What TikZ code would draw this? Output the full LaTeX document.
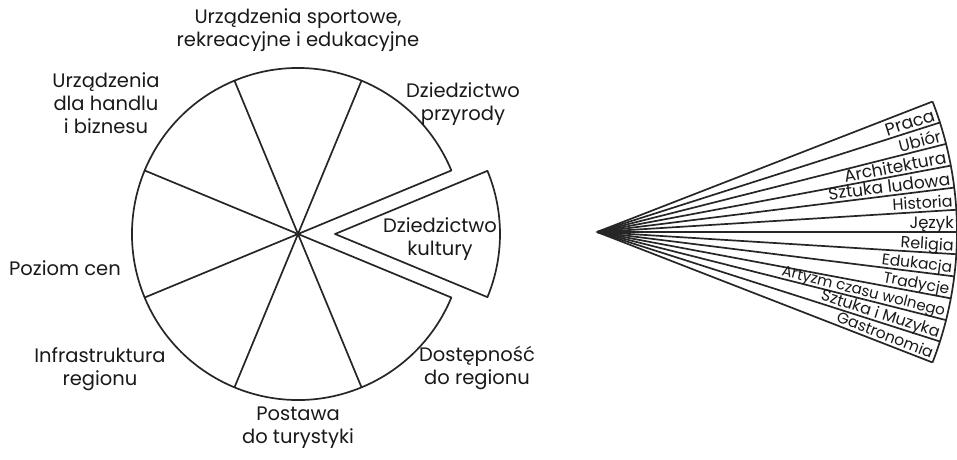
\documentclass[tikz,border=0pt]{standalone}
\usepackage{fontspec}
\setmainfont{Poppins}
\usetikzlibrary{calc}
\tikzset{
  lbl/.style={font=\fontsize{19.5}{23}\selectfont, align=center, inner sep=0pt, text=black!90},
  flbl/.style={inner sep=0pt, anchor=base east, text=black!90},
  edge/.style={line width=1.7pt, line join=round, black!85},
}
\begin{document}
\begin{tikzpicture}[x=1pt,y=1pt]
\useasboundingbox (0,0) rectangle (957,459);
% pie
\coordinate (C) at (298,225);
\coordinate (W) at (335,225);
\draw[edge] (C) -- ++(22.5:166) arc[start angle=22.5, end angle=337.5, radius=166] -- cycle;
\foreach \a in {67.5,112.5,157.5,202.5,247.5,292.5}
  \draw[edge] (C) -- ++(\a:166);
\draw[edge] (W) -- ++(-22.5:165) arc[start angle=-22.5, end angle=22.5, radius=165] -- cycle;
% pie labels
\node[lbl] (sport) at (298,429) {Urządzenia sportowe,\\rekreacyjne i edukacyjne};
\node[lbl] (handel) at (106,356) {Urządzenia\\dla handlu\\i biznesu};
\node[lbl] (przyr) at (463,355) {Dziedzictwo\\przyrody};
\node[lbl] (kult) at (440,220) {Dziedzictwo\\kultury};
\node[lbl] (ceny) at (65,191) {Poziom cen};
\node[lbl] (infra) at (100,90) {Infrastruktura\\regionu};
\node[lbl] (post) at (298,31) {Postawa\\do turystyki};
\node[lbl] (dost) at (477,91) {Dostępność\\do regionu};
% fan
\coordinate (F) at (597,227);
\pgfmathsetmacro{\da}{42.5/12}
\foreach \k in {0,...,12}{
  \pgfmathsetmacro{\ang}{21.25-\k*\da}
  \draw[edge] (F) -- ++(\ang:360);
}
\draw[edge] ($(F)+(21.25:360)$) arc[start angle=21.25, end angle=-21.25, radius=360];
\foreach \t/\s [count=\i from 1] in {Praca/17.5,Ubiór/16.5,Architektura/17,Sztuka ludowa/17,Historia/16,Język/16.5,Religia/16,Edukacja/15.5,Tradycje/15.5,Artyzm czasu wolnego/15,Sztuka i Muzyka/16,Gastronomia/15.5}{
  \pgfmathsetmacro{\ang}{21.25-\i*\da}
  \node[flbl, font=\fontsize{\s}{\s}\selectfont, rotate=\ang] (f\i) at ($(F)+(\ang+0.5:357)$) {\t};
}
\end{tikzpicture}
\end{document}
